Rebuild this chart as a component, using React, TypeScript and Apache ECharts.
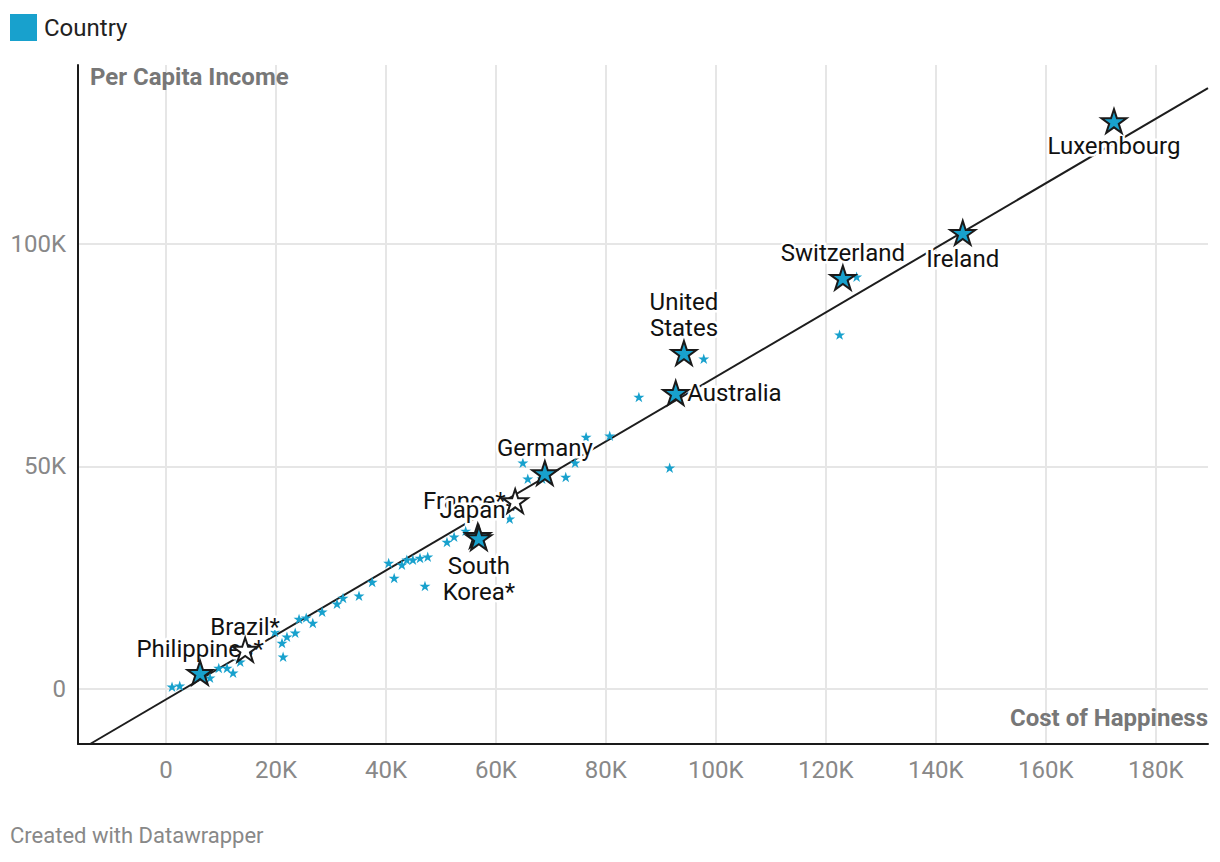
import React, { useEffect, useRef } from 'react';
import * as echarts from 'echarts';

// Axis ticks
const xTicks = [0, 20000, 40000, 60000, 80000, 100000, 120000, 140000, 160000, 180000];
const yTicks = [0, 50000, 100000];

// Unlabelled countries (Cost of Happiness, Per Capita Income)
const smallX = [1100, 2500, 6500, 8000, 9600, 11100, 12200, 13500, 19800, 21100, 21300, 22000, 23500, 24200, 25500, 26700, 28400, 31100, 32200, 35100, 37500, 40500, 41500, 42900, 43800, 44900, 46200, 47600, 47100, 51100, 52400, 54500, 62500, 64900, 65800, 68400, 72700, 74400, 76400, 80700, 86000, 91600, 97800, 122500, 125600];
const smallY = [450, 700, 2700, 2500, 4700, 4700, 3600, 6100, 12800, 10300, 7200, 11700, 12600, 15700, 16000, 14800, 17300, 19100, 20400, 20900, 24000, 28300, 24900, 27900, 29000, 29000, 29400, 29700, 23100, 33000, 34200, 35500, 38200, 50800, 47200, 47200, 47600, 50800, 56600, 56900, 65600, 49700, 74200, 79600, 92600];

// Labelled countries
const countryNames = ['Luxembourg', 'Ireland', 'Switzerland', 'United States', 'Australia', 'Germany', 'France', 'Japan', 'South Korea', 'Brazil', 'Philippines'];
const countryLabels = ['Luxembourg', 'Ireland', 'Switzerland', 'United\nStates', 'Australia', 'Germany', 'France*', 'Japan*', 'South\nKorea*', 'Brazil*', 'Philippines*'];
const countryX = [172400, 144900, 123100, 94200, 92700, 68900, 63500, 56700, 56900, 14400, 6200];
const countryY = [127600, 102500, 92400, 75500, 66500, 48500, 42200, 34400, 33900, 8800, 3600];

// Trend line end points
const trendX = [-13800, 189500];
const trendY = [-12400, 135000];

const labelPlacement: Record<string, [string, number]> = {
  Luxembourg: ['bottom', 0],
  Ireland: ['bottom', 1],
  Switzerland: ['top', 0],
  'United States': ['top', 0],
  Australia: ['right', -1],
  Germany: ['top', 0],
  France: ['left', -3],
  Japan: ['top', 1],
  'South Korea': ['bottom', 3],
  Brazil: ['top', -2],
  Philippines: ['top', -1],
};
const hollow = ['France', 'Brazil'];

const STAR = 'path://M0,-100L22.45,-30.9L95.1,-30.9L36.3,11.8L58.8,80.9L0,38.2L-58.8,80.9L-36.3,11.8L-95.1,-30.9L-22.45,-30.9Z';
const BLUE = '#18a1cd';
const FONT = 'Roboto';

const fmt = (v: number) => (v === 0 ? '0' : v / 1000 + 'K');

export default function App() {
  const ref = useRef<HTMLDivElement>(null);
  useEffect(() => {
    document.body.style.margin = '0';
    const chart = echarts.init(ref.current!, null, { renderer: 'svg' });
    const points = countryNames.map((n, i) => [countryX[i], countryY[i]]);
    const option = {
      animation: false,
      textStyle: { fontFamily: FONT },
      legend: {
        left: 10,
        top: 14,
        padding: 0,
        icon: 'rect',
        itemWidth: 27,
        itemHeight: 27,
        data: ['Country'],
        selectedMode: false,
        textStyle: { fontSize: 24, color: '#222', fontFamily: FONT, padding: [0, 0, 0, 2] },
      },
      grid: { left: 78, right: 12, top: 65, bottom: 118 },
      xAxis: {
        type: 'value',
        min: -16000,
        max: 189500,
        axisLine: { show: true, onZero: false, lineStyle: { color: '#1a1a1a', width: 2 } },
        axisTick: { show: false, customValues: xTicks },
        axisLabel: { customValues: xTicks, formatter: fmt, color: '#888', fontSize: 24, margin: 14, fontFamily: FONT },
        splitLine: { show: true, lineStyle: { color: '#e6e6e6', width: 2 } },
      },
      yAxis: {
        type: 'value',
        min: -12400,
        max: 140200,
        axisLine: { show: true, onZero: false, lineStyle: { color: '#1a1a1a', width: 2 } },
        axisTick: { show: false, customValues: yTicks },
        axisLabel: { customValues: yTicks, formatter: fmt, color: '#888', fontSize: 24, margin: 12, fontFamily: FONT },
        splitLine: { show: true, lineStyle: { color: '#e6e6e6', width: 2 } },
      },
      series: [
        {
          type: 'line',
          name: 'trend',
          data: trendX.map((x, i) => [x, trendY[i]]),
          symbol: 'none',
          lineStyle: { color: '#1d1d1d', width: 2 },
          silent: true,
          z: 2,
        },
        {
          type: 'scatter',
          name: 'Country',
          symbol: STAR,
          symbolKeepAspect: true,
          symbolSize: 11,
          itemStyle: { color: BLUE, opacity: 1 },
          data: smallX.map((x, i) => [x, smallY[i]]),
          z: 3,
        },
        {
          type: 'scatter',
          name: 'labels',
          symbol: STAR,
          symbolKeepAspect: true,
          symbolSize: 25,
          silent: true,
          itemStyle: { color: 'rgba(0,0,0,0)', borderWidth: 0 },
          z: 4,
          data: countryNames.map((n, i) => {
            const pos = labelPlacement[n][0];
            return {
              name: n,
              value: points[i],
              label: {
                show: true,
                formatter: countryLabels[i],
                position: pos,
                distance: labelPlacement[n][1],
                fontSize: 24,
                lineHeight: 26,
                color: '#111',
                opacity: 1,
                fontFamily: FONT,
                textBorderColor: '#fff',
                textBorderWidth: 5,
                ...(pos === 'top' || pos === 'bottom' ? { align: 'center' } : {}),
              },
            };
          }),
        },
        {
          type: 'scatter',
          name: 'Country',
          symbol: STAR,
          symbolKeepAspect: true,
          symbolSize: 25,
          itemStyle: { color: BLUE, borderColor: '#1a1a1a', borderWidth: 2, opacity: 1 },
          z: 5,
          data: countryNames.map((n, i) => ({
            name: n,
            value: points[i],
            itemStyle: hollow.includes(n) ? { color: '#fff' } : undefined,
          })),
        },
      ],
      graphic: [
        { type: 'text', left: 90, top: 65, z: 100, style: { text: 'Per Capita Income', font: `bold 24px ${FONT}`, fill: '#777' } },
        { type: 'text', right: 12, top: 706, z: 100, style: { text: 'Cost of Happiness', font: `bold 24px ${FONT}`, fill: '#777' } },
        { type: 'text', left: 10, top: 824, style: { text: 'Created with Datawrapper', font: `22px ${FONT}`, fill: '#888' } },
      ],
    };
    chart.setOption(option as any);
    return () => chart.dispose();
  }, []);
  return <div ref={ref} style={{ width: 1220, height: 862 }} />;
}
